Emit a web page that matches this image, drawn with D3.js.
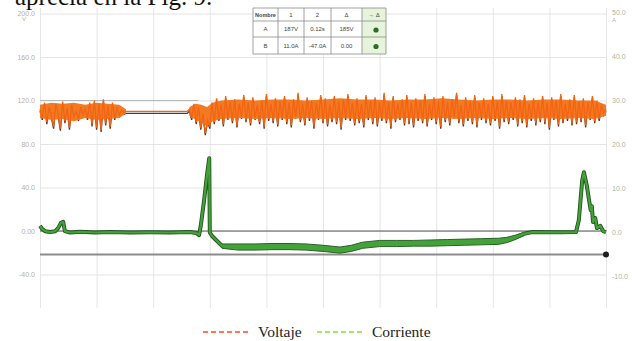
<!DOCTYPE html>
<html>
<head>
<meta charset="utf-8">
<script src="https://cdn.jsdelivr.net/npm/d3@7"></script>
<style>
  body { margin: 0; background: #fff; }
  svg { display: block; font-family: "Liberation Sans", Arial, sans-serif; }
</style>
</head>
<body>
<svg id="grafico" width="632" height="341"></svg>
<script>
// region datos
const pasoV = 0.4; // intervalo de muestreo del voltaje (unidades de tiempo)

const voltaje = [
  112, 104, 118, 100, 114, 106, 96, 117, 108, 94, 119, 101, 113, 95, 116, 105, 110, 103, 114, 107,
  112, 104, 118, 98, 120, 95, 117, 93, 121, 99, 115, 96, 118, 104, 113, 107, 111, 109,
  110, 110, 110, 110, 110, 110, 110, 110, 110, 110, 110, 110, 110, 110,
  110, 110, 110, 110, 110, 110, 110, 110, 110, 110, 110, 110, 110, 110,
  112, 104, 117, 100, 114, 95, 108, 90, 102, 96,
  118, 100, 122, 103, 116, 98, 124, 104, 119, 101,
  121, 97, 117, 105, 125, 102, 118, 99, 123, 104,
  116, 100, 120, 96, 126, 103, 117, 101, 122, 98,
  119, 104, 124, 100, 118, 97, 121, 105, 127, 102,
  117, 99, 123, 103, 120, 96, 118, 104, 125, 101,
  122, 98, 116, 102, 124, 100, 119, 95, 121, 104,
  126, 103, 118, 99, 122, 101, 117, 97, 125, 104,
  120, 100, 123, 98, 118, 103, 127, 101, 119, 96,
  124, 102, 117, 104, 121, 99, 125, 100, 118, 97,
  122, 103, 120, 101, 126, 98, 117, 104, 123, 100,
  119, 96, 124, 102, 118, 99, 121, 105, 127, 101,
  116, 98, 123, 103, 120, 100, 125, 97, 118, 104,
  122, 101, 117, 99, 124, 103, 119, 96, 126, 102,
  120, 100, 118, 104, 123, 98, 121, 101, 125, 97,
  117, 103, 122, 99, 119, 102, 124, 100, 118, 95,
  123, 104, 120, 98, 126, 101, 117, 103, 121, 99,
  125, 100, 119, 102, 122, 97, 118, 104, 124, 101,
  120, 103, 116, 108, 112
];

// banda densa del voltaje: [tiempo, minimo, maximo]
const envolventeV = [
  [0, 104, 116], [2, 102, 118], [4, 103, 117], [6, 101, 118], [8, 104, 116], [10, 102, 118],
  [12, 103, 117], [14, 104, 116], [15.2, 108, 112], [15.6, null, null],
  [26.4, 106, 114], [27.5, 102, 117], [28.5, 100, 116], [29.5, 96, 114], [30.5, 101, 118],
  [32, 103, 120], [35, 104, 121], [38, 103, 120], [41, 104, 121], [44, 103, 121], [47, 104, 120],
  [50, 103, 121], [53, 104, 122], [56, 103, 121], [59, 104, 121], [62, 103, 120], [65, 104, 121],
  [68, 103, 121], [71, 104, 122], [74, 103, 121], [77, 104, 120], [80, 103, 121], [83, 104, 121],
  [86, 103, 120], [89, 104, 121], [92, 103, 121], [95, 104, 120], [98, 103, 120], [100, 106, 116]
];

// [tiempo, amperios]
const corriente = [
  [0, 1.5], [0.4, 0.8], [0.9, 0.3], [1.8, 0.1], [2.7, 0.3], [3.2, 1.0], [3.7, 2.2], [4.1, 2.4],
  [4.4, 0.3], [5.3, 0], [7.1, 0.15], [9.7, 0], [12.4, 0.1], [15.9, 0], [19.4, 0.05], [23, 0],
  [26.5, 0.1], [27.6, -0.1], [28.1, -0.6], [28.4, 1.5], [29, 7.4], [29.5, 13], [29.9, 16.9],
  [30.0, 0], [30.4, -0.8], [31.1, -1.7], [32.2, -3.1], [35, -3.3], [38, -3.3], [41, -3.2],
  [44, -3.2], [47, -3.3], [50, -3.6], [53, -4.0], [55, -3.6], [57, -2.9], [60, -2.5], [63, -2.5],
  [66, -2.45], [69, -2.4], [72, -2.3], [75, -2.2], [78, -2.1], [81, -2.0], [82.5, -1.7],
  [84, -1.1], [85.5, -0.3], [87, 0.1], [91.9, 0.05], [94.7, 0.1], [95.2, 2.8], [95.8, 11.9],
  [96.1, 13.7], [96.6, 10.7], [97, 7.4], [97.3, 5.1], [97.5, 6.0], [97.7, 2.4], [98.1, 3.3],
  [98.4, 1.0], [99, 1.5], [99.5, 0.3], [100, 0.1]
];

// banda de la corriente en el tramo negativo: [tiempo, minimo, maximo]
const corrienteBanda = [
  [32.2, -3.6, -2.6], [35, -4.0, -2.6], [38, -4.0, -2.6], [41, -3.9, -2.5], [44, -3.9, -2.5],
  [47, -4.0, -2.6], [50, -4.3, -2.9], [53, -4.7, -3.3], [55, -4.3, -2.9], [57, -3.6, -2.2],
  [60, -3.2, -1.8], [63, -3.2, -1.8], [66, -3.1, -1.8], [69, -3.1, -1.7], [72, -3.0, -1.6],
  [75, -2.9, -1.5], [78, -2.8, -1.4], [81, -2.7, -1.3], [82.5, -2.3, -1.1], [84, -1.6, -0.6],
  [85.5, -0.7, 0.0]
];

const ticksV = [-40, 0, 40, 80, 120, 160, 200];
const ticksA = [-10, 0, 10, 20, 30, 40, 50];
const ticksT = [0, 10, 20, 30, 40, 50, 60, 70, 80, 90, 100];
const umbralA = -5;
const tramoCursor = [0, 28]; // tramo resaltado sobre 120 V

const tablaCabecera = ['Nombre', '1', '2', 'Δ', '→ Δ'];
const tablaFilas = [
  ['A', '187V', '0.12s', '185V', ''],
  ['B', '11.0A', '-47.0A', '0.00', '']
];

const leyenda = ['Voltaje', 'Corriente'];
const textoSuperior = 'aprecia en la Fig. 9.';
// endregion

const svg = d3.select('#grafico');

const x = d3.scaleLinear().domain([0, 100]).range([40, 606]);
const yV = d3.scaleLinear().domain([-40, 200]).range([274.5, 13.5]);
const yA = d3.scaleLinear().domain([-10, 50]).range([276.5, 12.5]);

// texto cortado arriba (recortado igual que en la figura original)
svg.append('text')
  .attr('x', 15).attr('y', 5)
  .attr('font-family', '"Liberation Serif", "Times New Roman", serif')
  .attr('font-size', 25)
  .attr('fill', '#111')
  .text(textoSuperior);

// rejilla vertical
const gx = svg.append('g')
  .attr('transform', 'translate(0,308)')
  .call(d3.axisBottom(x).tickValues(ticksT).tickSize(-300).tickFormat(''));
gx.select('.domain').remove();
gx.selectAll('line').attr('stroke', '#e6e6e6');

// eje izquierdo + rejilla horizontal
const fmt = d => d === 0 ? '0.00' : d.toFixed(1);
const gl = svg.append('g')
  .attr('transform', 'translate(40,0)')
  .call(d3.axisLeft(yV).tickValues(ticksV).tickSize(-566).tickPadding(5).tickFormat(fmt));
gl.select('.domain').remove();
gl.selectAll('line').attr('stroke', '#e4e4e4');
gl.selectAll('text').attr('font-size', 7).attr('fill', '#b8aea6');
svg.append('text').attr('x', 22).attr('y', 21).attr('font-size', 6).attr('fill', '#b8aea6').text('V');

// eje derecho
const gr = svg.append('g')
  .attr('transform', 'translate(606,0)')
  .call(d3.axisRight(yA).tickValues(ticksA).tickSize(0).tickPadding(6)
    .tickFormat(d => d === 0 ? '0.0' : d.toFixed(1)));
gr.select('.domain').remove();
gr.selectAll('text').attr('font-size', 7).attr('fill', '#abb7a2');
svg.append('text').attr('x', 612).attr('y', 22).attr('font-size', 6).attr('fill', '#abb7a2').text('A');

// tramo resaltado a 120 V
svg.append('line')
  .attr('x1', x(tramoCursor[0])).attr('x2', x(tramoCursor[1]))
  .attr('y1', yV(120)).attr('y2', yV(120))
  .attr('stroke', '#b8b8b8').attr('stroke-width', 1.2);

// linea de cero
svg.append('line')
  .attr('x1', x(0)).attr('x2', x(100))
  .attr('y1', yV(0)).attr('y2', yV(0))
  .attr('stroke', '#555').attr('stroke-width', 1);

// umbral
svg.append('line')
  .attr('x1', x(0)).attr('x2', x(100))
  .attr('y1', yA(umbralA)).attr('y2', yA(umbralA))
  .attr('stroke', '#8c8c8c').attr('stroke-width', 2);
svg.append('circle')
  .attr('cx', x(100)).attr('cy', yA(umbralA)).attr('r', 3)
  .attr('fill', '#1e1e1e');

// voltaje
const lineaV = d3.line()
  .x((d, i) => x(i * pasoV))
  .y(d => yV(d));

const areaV = d3.area()
  .defined(d => d[1] !== null)
  .x(d => x(d[0]))
  .y0(d => yV(d[1]))
  .y1(d => yV(d[2]));

svg.append('path')
  .datum(voltaje)
  .attr('d', lineaV)
  .attr('transform', 'translate(0,2)')
  .attr('fill', 'none')
  .attr('stroke', '#5a3424')
  .attr('stroke-width', 1.3);

svg.append('path')
  .datum(envolventeV)
  .attr('d', areaV)
  .attr('fill', '#f47a22');

svg.append('path')
  .datum(voltaje)
  .attr('d', lineaV)
  .attr('fill', 'none')
  .attr('stroke', '#f26414')
  .attr('stroke-width', 1.3);

// corriente
const lineaA = d3.line()
  .x(d => x(d[0]))
  .y(d => yA(d[1]));

const areaA = d3.area()
  .x(d => x(d[0]))
  .y0(d => yA(d[1]))
  .y1(d => yA(d[2]));

svg.append('path')
  .datum(corriente)
  .attr('d', lineaA)
  .attr('fill', 'none')
  .attr('stroke', '#23561f')
  .attr('stroke-width', 4)
  .attr('stroke-linejoin', 'round');

svg.append('path')
  .datum(corrienteBanda)
  .attr('d', areaA)
  .attr('fill', '#45a33b')
  .attr('stroke', '#2a6224')
  .attr('stroke-width', 1);

svg.append('path')
  .datum(corriente)
  .attr('d', lineaA)
  .attr('fill', 'none')
  .attr('stroke', '#43a23a')
  .attr('stroke-width', 2.2)
  .attr('stroke-linejoin', 'round');

// tabla de cursores
const colX = [253, 278, 304, 331, 362, 386];
const filaY = [8, 21, 37, 54];
const tabla = svg.append('g');

tabla.append('rect')
  .attr('x', colX[0]).attr('y', filaY[0])
  .attr('width', colX[5] - colX[0]).attr('height', filaY[3] - filaY[0])
  .attr('fill', '#fff');
tabla.append('rect')
  .attr('x', colX[4]).attr('y', filaY[0])
  .attr('width', colX[5] - colX[4]).attr('height', filaY[3] - filaY[0])
  .attr('fill', '#e6f4dc');

tabla.selectAll('line.h').data(filaY).join('line')
  .attr('x1', colX[0]).attr('x2', colX[5])
  .attr('y1', d => d).attr('y2', d => d)
  .attr('stroke', '#8a8a8a').attr('stroke-width', 0.8);
tabla.selectAll('line.v').data(colX).join('line')
  .attr('x1', d => d).attr('x2', d => d)
  .attr('y1', filaY[0]).attr('y2', filaY[3])
  .attr('stroke', '#8a8a8a').attr('stroke-width', 0.8);

const celdas = [tablaCabecera].concat(tablaFilas);
celdas.forEach((fila, r) => {
  fila.forEach((txt, c) => {
    const cx = (colX[c] + colX[c + 1]) / 2;
    const cy = (filaY[r] + filaY[r + 1]) / 2;
    if (r > 0 && c === 4) {
      tabla.append('circle').attr('cx', cx + 2).attr('cy', cy + 1).attr('r', 2.6).attr('fill', '#2c6b2a');
      return;
    }
    tabla.append('text')
      .attr('x', cx).attr('y', cy + 2.2)
      .attr('text-anchor', 'middle')
      .attr('font-size', r === 0 && c === 0 ? 5.5 : 6)
      .attr('font-weight', r === 0 && c === 0 ? 'bold' : 'normal')
      .attr('fill', '#444')
      .text(txt);
  });
});

// leyenda
const coloresLeyenda = ['#ff4b1f', '#86e22a'];
const leyendaX = [203, 317];
const gLey = svg.append('g');
leyenda.forEach((nombre, i) => {
  gLey.append('line')
    .attr('x1', leyendaX[i]).attr('x2', leyendaX[i] + 47)
    .attr('y1', 332).attr('y2', 332)
    .attr('stroke', coloresLeyenda[i])
    .attr('stroke-width', 1.6)
    .attr('stroke-dasharray', '5,3');
  gLey.append('text')
    .attr('x', leyendaX[i] + 55).attr('y', 337)
    .attr('font-family', '"Liberation Serif", "Times New Roman", serif')
    .attr('font-size', 15.5)
    .attr('fill', '#222')
    .text(nombre);
});
</script>
</body>
</html>
